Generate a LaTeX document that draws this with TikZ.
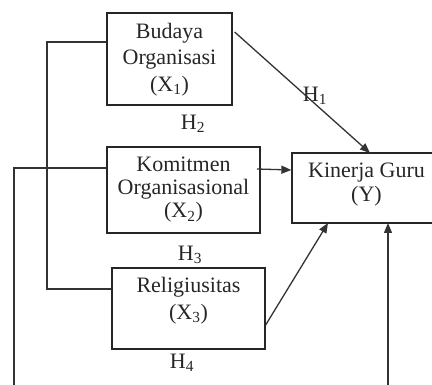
\documentclass[tikz,border=0pt]{standalone}
\usepackage{fontspec}
\setmainfont{Liberation Serif}
\usetikzlibrary{arrows.meta}
\begin{document}
\begin{tikzpicture}[x=1pt,y=-1pt,
  box/.style={draw=black!85,line width=1.3pt,rectangle,inner sep=0pt},
  txt/.style={font=\fontsize{22}{26.5}\selectfont,align=center,inner sep=0pt,text=black!85},
  hl/.style={font=\fontsize{22}{24}\selectfont,inner sep=0pt,text=black!85},
  ln/.style={draw=black!80,line width=1.3pt},
  arr/.style={ln,-{Triangle[length=10pt,width=8pt]}}]
\useasboundingbox (0,0) rectangle (432,385);
\clip (0,0) rectangle (432,385);
% boxes
\node[box,minimum width=125pt,minimum height=92pt] (b1) at (169.5,59) {};
\node[box,minimum width=153pt,minimum height=86pt] (b2) at (183.5,190) {};
\node[box,minimum width=153pt,minimum height=81pt] (b3) at (188.5,308.5) {};
\node[box,minimum width=149pt,minimum height=70pt] (y) at (366.5,188) {};
% texts
\node[txt] (t1) at (169.5,59.5) {Budaya\\Organisasi\\(X\textsubscript{1})};
\node[txt,font=\fontsize{22}{23}\selectfont] (t2) at (183.5,190) {Komitmen\\Organisasional\\(X\textsubscript{2})};
\node[txt,font=\fontsize{22}{27}\selectfont] (t3) at (188.5,300.5) {Religiusitas\\(X\textsubscript{3})};
\node[txt,font=\fontsize{22}{24}\selectfont] (ty) at (366.5,185) {Kinerja Guru\\(Y)};
% labels
\node[hl] (h1) at (315,96) {H\textsubscript{1}};
\node[hl] (h2) at (193,124) {H\textsubscript{2}};
\node[hl] (h3) at (190,255) {H\textsubscript{3}};
\node[hl] (h4) at (182,363) {H\textsubscript{4}};
% bend coordinates
\coordinate (c1) at (47,42);
\coordinate (c2) at (47,289);
\coordinate (c3) at (14,168);
\coordinate (c4) at (14,395);
\coordinate (c5) at (388,395);
\coordinate (c6) at (388,223);
% left brackets
\draw[ln] (b1.west |- c1) -- (c1) -- (c2) -- (b3.west |- c2);
\draw[ln] (b2.west |- c3) -- (c3) -- (c4);
% arrows
\draw[arr] (b1.north east |- 0,32) ++(2,0) -- (370,153);
\draw[arr] (257,169) -- (y.west |- 0,170);
\draw[arr] (b3.east |- 0,325) -- (328,223);
\draw[arr] (c5) -- (c6);
\end{tikzpicture}
\end{document}
